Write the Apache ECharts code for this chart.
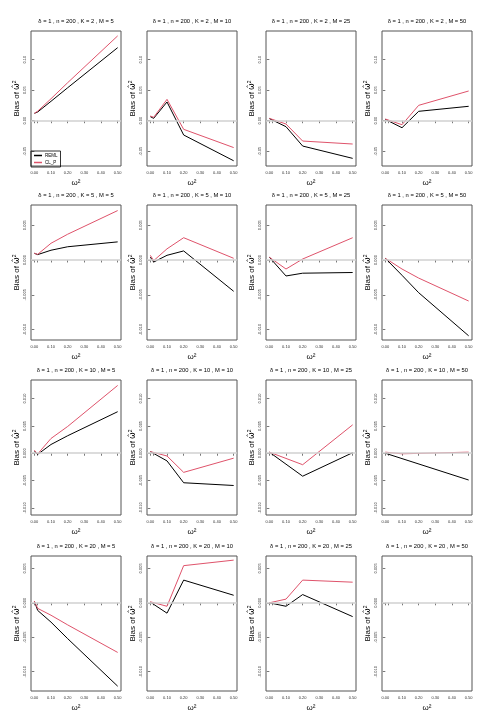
<!DOCTYPE html>
<html>
<head>
<meta charset="utf-8">
<script src="https://cdn.jsdelivr.net/npm/echarts@6/dist/echarts.min.js"></script>
<style>
  html, body { margin: 0; padding: 0; background: #fff; }
  #chart { width: 495px; height: 726px; }
</style>
</head>
<body>
<div id="chart"></div>
<script>
// x values (omega^2) shared by all panels
const omega2 = [0, 0.02, 0.1, 0.2, 0.5];
const kValues = [2, 5, 10, 20];
const mValues = [5, 10, 25, 50];

// bias estimates, one row per M (5, 10, 25, 50); null = not plotted
const remlK2 = [
  [0.0121, 0.0143, 0.0318, 0.054, 0.1197],
  [0.0066, 0.0039, 0.0307, -0.0234, -0.0656],
  [0.0035, null, -0.0098, -0.0415, -0.0617],
  [0.0022, null, -0.0115, 0.0154, 0.0236]
];
const clpK2 = [
  [0.012, 0.0156, 0.036, 0.0623, 0.139],
  [0.0077, 0.0056, 0.035, -0.0141, -0.044],
  [0.0039, null, -0.0054, -0.0333, -0.0382],
  [0.0028, null, -0.0066, 0.0252, 0.0487]
];
const remlK5 = [
  [0.00096, 0.00077, 0.0014, 0.0019, 0.0026],
  [0.0004, -0.0003, 0.00067, 0.0013, -0.0045],
  [0.0004, null, -0.0023, -0.0019, -0.0018],
  [0.00024, null, -0.0022, -0.0047, -0.0109]
];
const clpK5 = [
  [0.00096, 0.00081, 0.0024, 0.0037, 0.0071],
  [0.00067, -0.0001, 0.0016, 0.0032, 0.00024],
  [0.0004, null, -0.0013, 0.00014, 0.0032],
  [0.00024, null, -0.0013, -0.0026, -0.0059]
];
const remlK10 = [
  [0.0003, -0.0002, 0.0016, 0.0032, 0.0076],
  [0.0003, null, -0.0014, -0.0054, -0.0059],
  [0.0002, null, null, -0.0042, 0.0001],
  [0, null, null, null, -0.0049]
];
const clpK10 = [
  [0.00055, -0.00013, 0.0027, 0.0049, 0.0124],
  [0.0003, null, -0.0005, -0.0035, -0.0009],
  [0.0002, null, null, -0.0021, 0.0052],
  [0.0002, null, -0.0001, null, 0.0002]
];
const remlK20 = [
  [0.00025, -0.0011, -0.0028, -0.0052, -0.0121],
  [0.0001, null, -0.0015, 0.0033, 0.0011],
  [0, null, -0.0005, 0.0012, -0.002],
  [null, null, null, null, null]
];
const clpK20 = [
  [0.00025, -0.0008, -0.0018, -0.0032, -0.0072],
  [0.00015, null, -0.0005, 0.0054, 0.0062],
  [0, null, 0.00054, 0.0033, 0.003],
  [null, null, null, null, null]
];

// y tick labels per row
const yTicksK2 = [-0.05, 0, 0.05, 0.1];
const yTicksK5 = [-0.01, -0.005, 0, 0.005];
const yTicksK10 = [-0.01, -0.005, 0, 0.005, 0.01];
const yTicksK20 = [-0.01, -0.005, 0, 0.005];
const xTicks = [0, 0.02, 0.1, 0.2, 0.3, 0.4, 0.5];
const xLabels = [0, 0.1, 0.2, 0.3, 0.4, 0.5];

const remlRows = [remlK2, remlK5, remlK10, remlK20];
const clpRows = [clpK2, clpK5, clpK10, clpK20];
const yTickRows = [yTicksK2, yTicksK5, yTicksK10, yTicksK20];
const yRanges = [[-0.0742, 0.147], [-0.0115, 0.0079], [-0.0113, 0.0134], [-0.0128, 0.0068]];
const yDigits = [2, 3, 3, 3];

const colLeft = [31, 147, 266, 382];
const rowTop = [31, 205, 380, 556];
const W = 90, H = 135;
const FONT = 'Liberation Sans, Arial, sans-serif';

let grids = [], xAxes = [], yAxes = [], series = [], graphics = [];

for (let r = 0; r < 4; r++) {
  for (let c = 0; c < 4; c++) {
    const i = r * 4 + c;
    grids.push({
      left: colLeft[c], top: rowTop[r], width: W, height: H,
      show: true, borderColor: '#555', borderWidth: 1, backgroundColor: 'transparent'
    });
    xAxes.push({
      type: 'value', gridIndex: i, min: -0.02, max: 0.52,
      axisLine: { show: false },
      axisTick: { show: true, customValues: xTicks, length: 2.5, lineStyle: { color: '#555', width: 0.8 } },
      axisLabel: { customValues: xLabels, fontSize: 4, margin: 5, color: '#333', fontFamily: FONT,
        formatter: v => v.toFixed(2) },
      splitLine: { show: false },
      name: 'ω²', nameLocation: 'middle', nameGap: 13,
      nameTextStyle: { fontSize: 8, color: '#000', fontFamily: FONT }
    });
    const d = yDigits[r];
    yAxes.push({
      type: 'value', gridIndex: i, min: yRanges[r][0], max: yRanges[r][1],
      axisLine: { show: false },
      axisTick: { show: true, customValues: yTickRows[r], length: 2.5, lineStyle: { color: '#555', width: 0.8 } },
      axisLabel: { customValues: yTickRows[r], fontSize: 4, margin: 4, rotate: 90, color: '#333', fontFamily: FONT,
        formatter: v => v.toFixed(d) },
      splitLine: { show: false },
      name: 'Bias of {w|ω\u0302}{s|2}', nameLocation: 'middle', nameGap: 9, nameRotate: 90,
      nameTextStyle: {
        fontSize: 8, color: '#000', fontFamily: FONT,
        rich: {
          w: { fontSize: 8, fontFamily: 'DejaVu Sans', color: '#000' },
          s: { fontSize: 5, fontFamily: FONT, color: '#000', padding: [0, 0, 5, 0] }
        }
      }
    });
    // zero reference line
    series.push({
      type: 'line', xAxisIndex: i, yAxisIndex: i, data: [], z: 1, silent: true,
      markLine: {
        silent: true, symbol: 'none', label: { show: false },
        lineStyle: { color: '#d0d0d0', width: 1.5, type: 'solid' },
        data: [{ yAxis: 0 }], animation: false
      }
    });
    series.push({
      name: 'REML', type: 'line', xAxisIndex: i, yAxisIndex: i, z: 3,
      data: omega2.map((x, k) => [x, remlRows[r][c][k]]),
      showSymbol: false, symbol: 'none', connectNulls: true, color: '#000000',
      lineStyle: { width: 1, color: '#000000' }
    });
    series.push({
      name: 'CL_P', type: 'line', xAxisIndex: i, yAxisIndex: i, z: 3,
      data: omega2.map((x, k) => [x, clpRows[r][c][k]]),
      showSymbol: false, symbol: 'none', connectNulls: true, color: '#DF536B',
      lineStyle: { width: 1, color: '#DF536B' }
    });
    graphics.push({
      type: 'text', x: colLeft[c] + W / 2, y: rowTop[r] - 9.5,
      style: {
        text: 'δ = 1 , n = 200 , K = ' + kValues[r] + ' , M = ' + mValues[c],
        fontSize: 5.8, fontFamily: FONT, fill: '#000',
        textAlign: 'center', textVerticalAlign: 'middle'
      }
    });
  }
}

const chart = echarts.init(document.getElementById('chart'), null, { renderer: 'canvas' });
chart.setOption({
  animation: false,
  backgroundColor: '#fff',
  grid: grids,
  xAxis: xAxes,
  yAxis: yAxes,
  series: series,
  graphic: graphics,
  legend: {
    data: ['REML', 'CL_P'], orient: 'vertical', left: 31, top: 151,
    itemWidth: 8, itemHeight: 1.5, itemGap: 2, padding: [2, 3],
    icon: 'rect', borderColor: '#000', borderWidth: 0.8, borderRadius: 0,
    textStyle: { fontSize: 4.5, fontFamily: FONT, color: '#000', padding: [0, 0, 0, -2] },
    selectedMode: false
  }
});
</script>
</body>
</html>
